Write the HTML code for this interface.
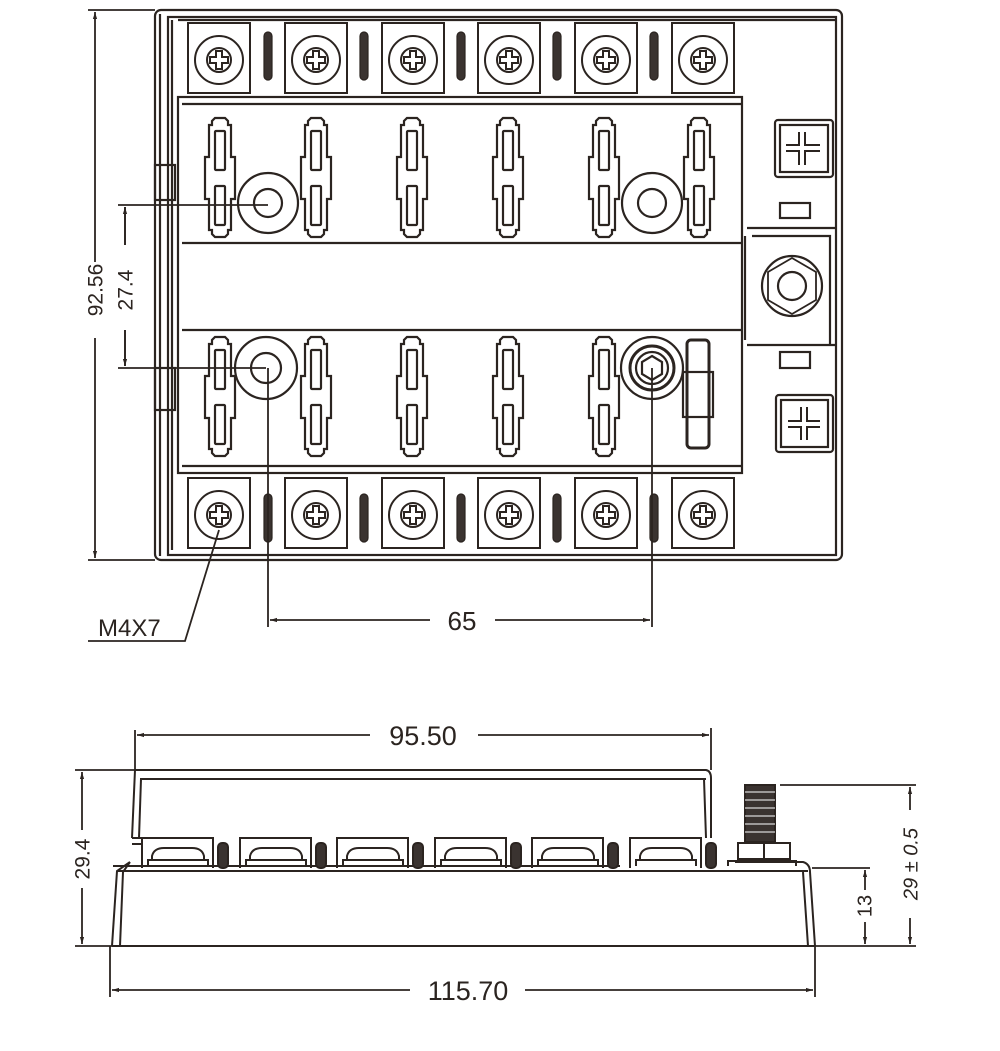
<!DOCTYPE html>
<html><head><meta charset="utf-8"><style>
html,body{margin:0;padding:0;background:#fff;}
svg{display:block;}
text{font-family:"Liberation Sans",sans-serif;fill:#2b2420;}
</style></head><body>
<svg width="1000" height="1051" viewBox="0 0 1000 1051" xmlns="http://www.w3.org/2000/svg">
<defs>
<g id="slot" fill="none" stroke="#2b2420" stroke-width="2.2">
<path d="M-5,0 H5 L8,3 V7 H11 V39 H15 V81 H11 V112 H8 V116 L5,119 H-5 L-8,116 V112 H-11 V81 H-15 V39 H-11 V7 H-8 V3 Z"/>
<rect x="-5" y="13" width="10" height="39" rx="1"/>
<rect x="-5" y="68" width="10" height="39" rx="1"/>
</g>
<g id="term" fill="none" stroke="#2b2420" stroke-width="2">
<rect x="-31" y="-37" width="62" height="70"/>
<circle cx="0" cy="0" r="24"/>
<circle cx="0" cy="0" r="12"/>
<path d="M-3,-9 H3 V-3 H9 V3 H3 V9 H-3 V3 H-9 V-3 H-3 Z"/>
</g>
<g id="pin"><rect x="-4" y="-24" width="8" height="48" rx="4" fill="#3a3330" stroke="#2b2420" stroke-width="1.2"/></g>
<g id="sterm" fill="none" stroke="#2b2420" stroke-width="2">
<path d="M0,30 V0 H71 V30"/>
<path d="M6,28 V22 H66 V28"/>
<path d="M10,22 V18 Q12,10 22,10 H50 Q60,10 62,18 V22"/>
<rect x="76" y="5" width="10" height="25" rx="4" fill="#3a3330"/>
</g>
<marker id="ar" viewBox="0 0 10 10" refX="10" refY="5" markerWidth="10" markerHeight="7" orient="auto-start-reverse" markerUnits="userSpaceOnUse"><path d="M0,2 L10,5 L0,8 Z" fill="#2b2420"/></marker>
</defs>

<g fill="none" stroke="#2b2420" stroke-width="2.2">
<rect x="155" y="10" width="687" height="550" rx="6"/>
<path d="M160,14 V556 M172,20 V550 M178,20 H836"/>
<rect x="168" y="17" width="668" height="538"/>
<rect x="155" y="165" width="20" height="35"/>
<rect x="155" y="368" width="20" height="42"/>
<rect x="178" y="97" width="564" height="376"/>
<path d="M182,104 H742 M182,466 H742 M182,243 H742 M182,330 H742"/>
<path d="M747,228 H835 M752,236 H830 V345 M747,345 H835 M745,236 V340"/>
<path d="M792,258 l24,14 v28 l-24,14 l-24,-14 v-28 Z" stroke-width="1.8"/>
<circle cx="792" cy="286" r="30"/>
<circle cx="792" cy="286" r="14"/>
<rect x="775" y="120" width="58" height="57" rx="3"/>
<rect x="780" y="125" width="48" height="47"/>
<path d="M802,132 V165 M786,148 H820" stroke-width="8"/>
<path d="M802,132 V165 M786,148 H820" stroke="#fff" stroke-width="4"/>
<rect x="776" y="395" width="57" height="57" rx="3"/>
<rect x="781" y="400" width="47" height="47"/>
<path d="M804,407 V440 M788,424 H820" stroke-width="8"/>
<path d="M804,407 V440 M788,424 H820" stroke="#fff" stroke-width="4"/>
<rect x="780" y="203" width="30" height="15"/>
<rect x="780" y="352" width="30" height="16"/>
<circle cx="268" cy="203" r="30"/><circle cx="268" cy="203" r="14"/>
<circle cx="652" cy="203" r="30"/><circle cx="652" cy="203" r="14"/>
<circle cx="266" cy="368" r="31"/><circle cx="266" cy="368" r="15"/>
<circle cx="652" cy="368" r="31"/><circle cx="652" cy="368" r="22" stroke-width="3"/><circle cx="652" cy="368" r="16"/>
<path d="M652,356 l10,6 v12 l-10,6 l-10,-6 v-12 Z"/>
<rect x="687" y="340" width="22" height="108" rx="4" stroke-width="3"/>
<rect x="683" y="372" width="30" height="45"/>
</g>
<g>
<use href="#term" x="219" y="60"/><use href="#term" x="316" y="60"/><use href="#term" x="413" y="60"/><use href="#term" x="509" y="60"/><use href="#term" x="606" y="60"/><use href="#term" x="703" y="60"/>
<use href="#term" x="219" y="515"/><use href="#term" x="316" y="515"/><use href="#term" x="413" y="515"/><use href="#term" x="509" y="515"/><use href="#term" x="606" y="515"/><use href="#term" x="703" y="515"/>
<use href="#pin" x="268" y="56"/><use href="#pin" x="364" y="56"/><use href="#pin" x="461" y="56"/><use href="#pin" x="557" y="56"/><use href="#pin" x="654" y="56"/>
<use href="#pin" x="268" y="518"/><use href="#pin" x="364" y="518"/><use href="#pin" x="461" y="518"/><use href="#pin" x="557" y="518"/><use href="#pin" x="654" y="518"/>
<use href="#slot" x="220" y="118"/><use href="#slot" x="316" y="118"/><use href="#slot" x="412" y="118"/><use href="#slot" x="508" y="118"/><use href="#slot" x="604" y="118"/><use href="#slot" x="699" y="118"/>
<use href="#slot" x="220" y="337"/><use href="#slot" x="316" y="337"/><use href="#slot" x="412" y="337"/><use href="#slot" x="508" y="337"/><use href="#slot" x="604" y="337"/>
</g>
<g fill="none" stroke="#2b2420" stroke-width="1.8">
<path d="M88,10 H155 M88,560 H155"/>
<path d="M95,12 V262 M95,338 V558" marker-start="url(#ar)" marker-end="url(#ar)"/>
<path d="M118,205 H268 M118,368 H266"/>
<path d="M125,207 V245 M125,330 V366"/>
<path d="M125,245 V207" marker-end="url(#ar)"/><path d="M125,330 V366" marker-end="url(#ar)"/>
<path d="M268,368 V627 M652,368 V627"/>
<path d="M270,620 H430" marker-start="url(#ar)"/><path d="M495,620 H650" marker-end="url(#ar)"/>
<path d="M219,530 L185,641 H88"/>
</g>
<text x="97" y="290" font-size="21" text-anchor="middle" transform="rotate(-90 97 290)" dominant-baseline="middle">92.56</text>
<text x="127" y="290" font-size="21" text-anchor="middle" transform="rotate(-90 127 290)" dominant-baseline="middle">27.4</text>
<text x="462" y="630" font-size="26" text-anchor="middle">65</text>
<text x="98" y="636" font-size="24">M4X7</text>

<g fill="none" stroke="#2b2420" stroke-width="2">
<path d="M135,770 H706 Q711,771 711,778 V838"/>
<path d="M140,779 H706"/>
<path d="M135,770 L132,838 M141,779 L139,838 M704,779 L706,838"/>
<path d="M132,838 H148 M132,844 H142"/>
<path d="M130,862 L117,871 L112,946 M130,862 L123,872 L120,946"/>
<path d="M117,871 H808 M113,866 H620"/>
<path d="M112,946 H815"/>
<path d="M735,862 H803 Q810,864 810,872 L815,946 M803,872 L808,946"/>
<rect x="745" y="785" width="30" height="57" fill="#3a3330"/>
<path d="M745,792 H775 M745,800 H775 M745,808 H775 M745,816 H775 M745,824 H775 M745,832 H775" stroke="#fff" stroke-width="1"/>
<rect x="738" y="843" width="52" height="16"/>
<path d="M764,843 V859"/>
<path d="M728,866 V861 H796 V866"/>
</g>
<g>
<use href="#sterm" x="142" y="838"/><use href="#sterm" x="240" y="838"/><use href="#sterm" x="337" y="838"/><use href="#sterm" x="435" y="838"/><use href="#sterm" x="532" y="838"/><use href="#sterm" x="630" y="838"/>
</g>
<g fill="none" stroke="#2b2420" stroke-width="1.8">
<path d="M135,730 V770 M711,728 V770"/>
<path d="M137,735 H370" marker-start="url(#ar)"/><path d="M478,735 H709" marker-end="url(#ar)"/>
<path d="M75,770 H135 M75,946 H112"/>
<path d="M82,772 V830" marker-start="url(#ar)"/><path d="M82,888 V944" marker-end="url(#ar)"/>
<path d="M110,946 V997 M815,946 V997"/>
<path d="M112,990 H410" marker-start="url(#ar)"/><path d="M525,990 H813" marker-end="url(#ar)"/>
<path d="M780,785 H916 M812,868 H870 M815,946 H916"/>
<path d="M865,870 V890" marker-start="url(#ar)"/><path d="M865,922 V944" marker-end="url(#ar)"/>
<path d="M910,787 V810" marker-start="url(#ar)"/><path d="M910,918 V944" marker-end="url(#ar)"/>
</g>
<text x="84" y="859" font-size="21" text-anchor="middle" transform="rotate(-90 84 859)" dominant-baseline="middle">29.4</text>
<text x="423" y="745" font-size="27" text-anchor="middle">95.50</text>
<text x="468" y="1000" font-size="27" text-anchor="middle">115.70</text>
<text x="866" y="906" font-size="20" text-anchor="middle" transform="rotate(-90 866 906)" dominant-baseline="middle">13</text>
<text x="912" y="864" font-size="20" font-style="italic" text-anchor="middle" transform="rotate(-90 912 864)" dominant-baseline="middle">29 ± 0.5</text>
</svg>
</body></html>
